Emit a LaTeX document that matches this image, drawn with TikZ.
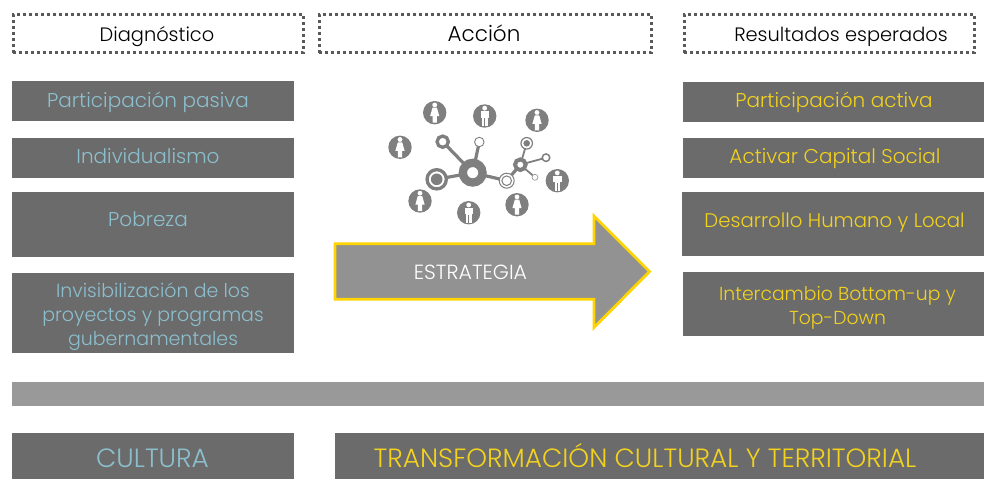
\documentclass[tikz,border=0pt]{standalone}
\usepackage{fontspec}
\setmainfont{Poppins}[UprightFont=* Light]
\definecolor{boxgray}{HTML}{6B6B6B}
\definecolor{bargray}{HTML}{999999}
\definecolor{arrowgray}{HTML}{929292}
\definecolor{iconcol}{HTML}{7F7F7F}
\definecolor{diagblue}{HTML}{8CBFCE}
\definecolor{resyellow}{HTML}{F2D21E}
\definecolor{arrowgold}{HTML}{FFD400}
\tikzset{
	titlebox/.style = {draw = black!65, line width = 3pt, dash pattern = on 3pt off 3pt, inner sep = 0pt},
	graybox/.style  = {fill = boxgray, inner sep = 0pt},
	textlabel/.style = {align = center, inner sep = 0pt},
	oneline/.style  = {text height = 20pt, text depth = 5pt},
	titletext/.style = {textlabel, oneline, font = \fontsize{19.4}{23}\selectfont, text = black},
	difftext/.style = {textlabel, font = \fontsize{20}{24}\selectfont, text = diagblue},
	restext/.style  = {textlabel, font = \fontsize{20}{24}\selectfont, text = resyellow},
	bigtext/.style  = {font = \fontsize{26.4}{30}\selectfont, text height = 25pt, text depth = 6pt},
	hub/.style      = {circle, draw = iconcol, fill = white, inner sep = 0pt},
	link/.style     = {draw = iconcol, line width = 3.2pt},
	man/.pic = {
		\fill[white] (0, -7.8) circle (2.4);
		\fill[white] (-4.2, -5) rectangle (4.2, 1.5);
		\fill[white] (-2.8, 1.5) rectangle (2.8, 10);
		\draw[iconcol, line width = 0.5pt] (0, 2) -- (0, 10);
	},
	woman/.pic = {
		\fill[white] (0, -7.8) circle (2.4);
		\fill[white] (-2.2, -5) -- (2.2, -5) -- (4.6, 3.5) -- (2.1, 3.5) -- (2.1, 10) -- (-2.1, 10) -- (-2.1, 3.5) -- (-4.6, 3.5) -- cycle;
	},
}
\begin{document}
\begin{tikzpicture}[x = 1pt, y = -1pt]
	\useasboundingbox (0, 0) rectangle (984, 479);
	% titles
	\node[titlebox, minimum width = 290pt, minimum height = 38.6pt] (diagbox) at (158.3, 33.5) {};
	\node[titlebox, minimum width = 332pt, minimum height = 38.6pt] (accbox)  at (485, 33.5)   {};
	\node[titlebox, minimum width = 290pt, minimum height = 38.6pt] (resbox)  at (829, 33.5)   {};
	\node[titletext] (diagnostico) at (157, 34)  {Diagnóstico};
	\node[titletext, font = \fontsize{21.5}{25}\selectfont] (accion) at (484, 34) {Acción};
	\node[titletext] (resultados)  at (841, 34)  {Resultados esperados};
	% left column
	\node[graybox, minimum width = 282pt, minimum height = 40pt] (pasivabox)    at (153, 101)   {};
	\node[graybox, minimum width = 282pt, minimum height = 40pt] (indivbox)     at (153, 158)   {};
	\node[graybox, minimum width = 282pt, minimum height = 65pt] (pobrezabox)   at (153, 224.5) {};
	\node[graybox, minimum width = 282pt, minimum height = 80pt] (invisbox)     at (153, 313)   {};
	\node[difftext, oneline] (pasiva)  at (148, 100) {Participación pasiva};
	\node[difftext, oneline] (indiv)   at (148, 156) {Individualismo};
	\node[difftext, oneline] (pobreza) at (148, 219) {Pobreza};
	\node[difftext, font = \fontsize{19}{24}\selectfont] (invisible) at (153, 317) {Invisibilización de los\\proyectos y programas\\gubernamentales};
	% right column
	\node[graybox, minimum width = 301pt, minimum height = 40pt] (activabox)  at (833.5, 102) {};
	\node[graybox, minimum width = 301pt, minimum height = 40pt] (capitalbox) at (833.5, 158) {};
	\node[graybox, minimum width = 302pt, minimum height = 64pt] (humanobox)  at (833, 224)   {};
	\node[graybox, minimum width = 301pt, minimum height = 64pt] (interbox)   at (833.5, 304) {};
	\node[restext, oneline] (activa)  at (834, 100)   {Participación activa};
	\node[restext, oneline] (capital) at (835, 156)   {Activar Capital Social};
	\node[restext, oneline, font = \fontsize{19.7}{24}\selectfont] (humano) at (834.5, 220) {Desarrollo Humano y Local};
	\node[restext, font = \fontsize{18.8}{24}\selectfont] (inter)  at (837.5, 308) {Intercambio Bottom-up y\\Top-Down};
	% bars
	\node[fill = bargray, minimum width = 972pt, minimum height = 24pt, inner sep = 0pt] (banda) at (498, 394) {};
	\node[graybox, minimum width = 282pt, minimum height = 46pt] (culturabox) at (153, 456)   {};
	\node[graybox, minimum width = 649pt, minimum height = 46pt] (transbox)   at (659.5, 456) {};
	\node[difftext, bigtext] (cultura)    at (152.5, 458) {CULTURA};
	\node[restext, bigtext]  (transforma) at (645, 458)   {TRANSFORMACIÓN CULTURAL Y TERRITORIAL};
	% arrow
	\draw[draw = arrowgold, fill = arrowgray, line width = 2.8pt, miter limit = 4]
		(335, 243.8) -- (594, 243.8) -- (594, 216) -- (649.5, 271.5) -- (594, 327.5) -- (594, 299.2) -- (335, 299.2) -- cycle;
	\node[text = white, font = \fontsize{20.5}{24}\selectfont, inner sep = 0pt] (estrategia) at (470.5, 272) {ESTRATEGIA};
	% links
	\coordinate (centro) at (472.7, 172.7);
	\coordinate (nudo)   at (520.3, 164.7);
	\coordinate (a) at (442.7, 141.7);
	\coordinate (b) at (479.3, 142);
	\coordinate (c) at (436.7, 179.3);
	\coordinate (d) at (506.7, 180.7);
	\coordinate (e) at (526.7, 143.3);
	\coordinate (f) at (546, 157.7);
	\coordinate (g) at (535, 177.3);
	\draw[link] (centro) -- (a);
	\draw[link] (centro) -- (b);
	\draw[link] (centro) -- (c);
	\draw[link] (centro) -- (d);
	\draw[link] (d) -- (nudo);
	\draw[link, line width = 1.8pt] (nudo) -- (e);
	\draw[link, line width = 1.8pt] (nudo) -- (f);
	\draw[link, line width = 1.8pt] (nudo) -- (g);
	% network
	\node[hub, line width = 8.3pt, minimum size = 19.7pt] (ncentro) at (centro) {};
	\node[hub, line width = 4pt, minimum size = 10.6pt] (nnudo) at (nudo) {};
	\node[hub, line width = 3.3pt, minimum size = 11.3pt] (na) at (a) {};
	\node[hub, line width = 0.9pt, minimum size = 9.5pt] (nb) at (b) {};
	\node[hub, line width = 3.3pt, minimum size = 19.3pt] (nc) at (c) {};
	\fill[iconcol] (c) circle (5.8);
	\node[hub, line width = 1pt, minimum size = 15pt] (nd) at (d) {};
	\draw[iconcol, line width = 1pt] (d) circle (4.8);
	\node[hub, line width = 1.2pt, minimum size = 11.5pt] (ne) at (e) {};
	\fill[iconcol] (e) circle (3.3);
	\node[hub, line width = 1.5pt, minimum size = 7.5pt] (nf) at (f) {};
	\node[hub, line width = 0.7pt, draw = bargray, minimum size = 6pt] (ng) at (g) {};
	% people
	\foreach \px/\py/\kind in {434.7/112.7/woman, 484.7/116/man, 537/120.3/woman, 400/147.3/woman, 557.3/180.7/man, 420/201/woman, 468.7/212.7/man, 517/204.7/woman} {
		\fill[iconcol] (\px, \py) circle (11.7);
		\pic at (\px, \py) {\kind};
	}
\end{tikzpicture}
\end{document}
